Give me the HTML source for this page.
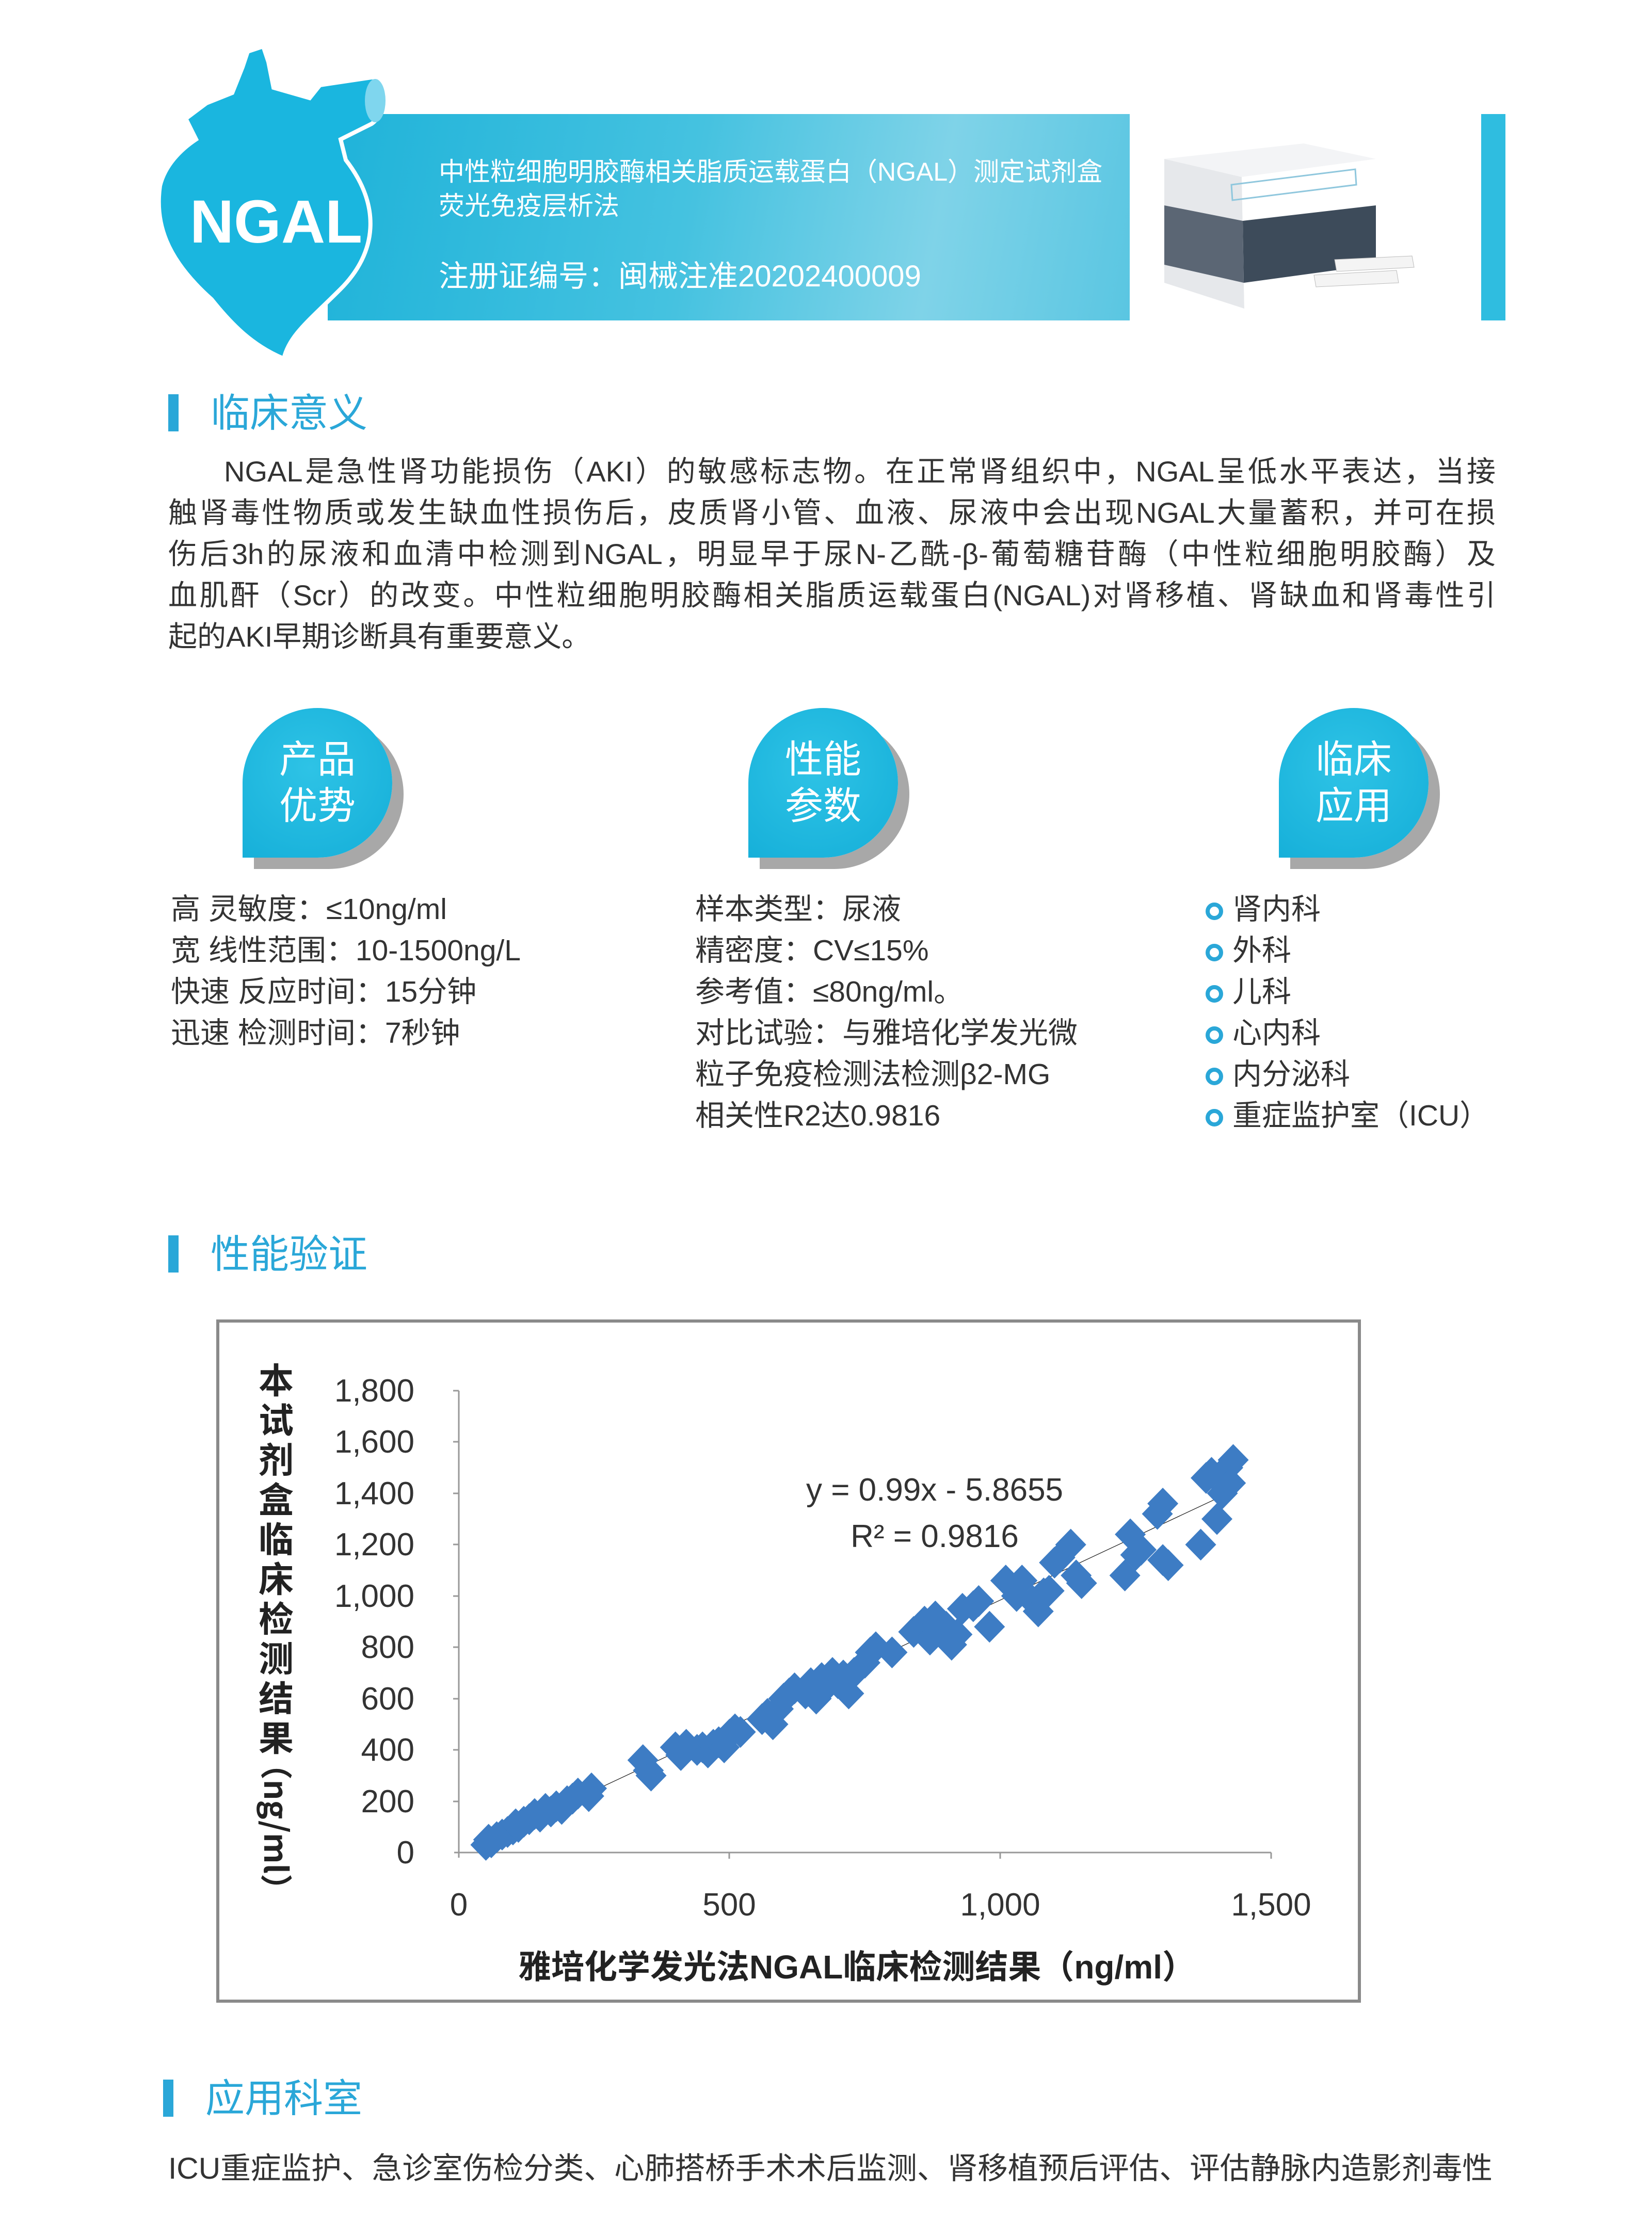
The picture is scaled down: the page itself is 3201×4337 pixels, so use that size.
<!DOCTYPE html>
<html><head><meta charset="utf-8"><style>
*{margin:0;padding:0;box-sizing:border-box}
body{width:3201px;height:4337px;background:#fff;position:relative;overflow:hidden;font-family:"Liberation Sans","Noto Sans CJK SC",sans-serif;color:#333}
.abs{position:absolute}
.sec{position:absolute;left:326px;font-size:76px;color:#2aa7d8;line-height:1}
.sec:before{content:"";position:absolute;left:0;top:0;width:20px;height:72px;background:#2aa7d8}
.sec span{margin-left:82px}
.para{position:absolute;left:326px;width:2572px;font-size:56px;line-height:80px}
.para div{text-align:justify;text-align-last:justify;white-space:nowrap}
.badge{position:absolute;width:290px;height:290px;border-radius:50% 50% 50% 0;background:radial-gradient(circle at 45% 40%,#2ec3e6,#14aed8);box-shadow:22px 22px 0 #a8a8a8;color:#fff;font-size:74px;line-height:90px;text-align:center;padding-top:55px}
.list{position:absolute;font-size:57px;line-height:80px;white-space:nowrap;color:#333}
.dot{display:inline-block;width:34px;height:34px;border:8px solid #2aa7d8;border-radius:50%;margin-right:18px;vertical-align:-2px}
</style></head><body>

<div class="abs" style="left:635px;top:221px;width:1554px;height:400px;background:linear-gradient(100deg,#1fb3d9 0%,#45c2e0 45%,#7fd3e8 75%,#5ac6e2 100%)"></div>
<div class="abs" style="left:2870px;top:221px;width:47px;height:400px;background:#2fbde0"></div>
<svg class="abs" style="left:280px;top:70px" width="520" height="640" viewBox="0 0 520 640">
<path d="M190 60 L200 30 L230 20 L240 50 L250 100 L320 120 L340 95 L440 80 C470 80 470 150 440 170 L380 200 L390 240 C460 330 450 420 380 490 C320 550 280 580 270 625 C210 600 170 560 130 510 C40 430 20 360 30 290 C40 250 70 220 100 200 L80 160 L120 130 L170 110 Z" fill="#1ab6df" stroke="#fff" stroke-width="8"/>
<ellipse cx="447" cy="125" rx="20" ry="42" fill="#7fd6ee"/>
<text x="255" y="400" text-anchor="middle" font-family="Liberation Sans" font-weight="bold" font-size="118" fill="#fff">NGAL</text>
</svg>
<div class="abs" style="left:850px;top:300px;color:#fff;font-size:50px;line-height:66px;white-space:nowrap">中性粒细胞明胶酶相关脂质运载蛋白（NGAL）测定试剂盒<br>荧光免疫层析法</div>
<div class="abs" style="left:850px;top:488px;color:#fff;font-size:58px;white-space:nowrap">注册证编号：闽械注准20202400009</div>
<svg class="abs" style="left:2236px;top:248px" width="540" height="370" viewBox="0 0 540 370">
<polygon points="20,60 290,30 430,60 170,95" fill="#f3f4f6"/>
<polygon points="20,60 170,95 175,350 20,300" fill="#e6e8eb"/>
<polygon points="170,95 430,60 430,330 175,350" fill="#fff"/>
<polygon points="172,180 430,150 430,265 174,300" fill="#3d4b5a"/>
<polygon points="20,150 172,180 174,300 20,265" fill="#5b6674"/>
<polygon points="150,110 390,80 392,110 152,140" fill="none" stroke="#8fc7dd" stroke-width="3"/>
<polygon points="350,255 500,248 504,270 354,278" fill="#f4f4f4" stroke="#bbb"/>
<polygon points="310,285 470,276 474,300 314,308" fill="#f4f4f4" stroke="#bbb"/>
</svg>

<div class="sec" style="top:764px"><span>临床意义</span></div>
<div class="para" style="top:874px">
<div style="padding-left:108px">NGAL是急性肾功能损伤（AKI）的敏感标志物。在正常肾组织中，NGAL呈低水平表达，当接</div>
<div>触肾毒性物质或发生缺血性损伤后，皮质肾小管、血液、尿液中会出现NGAL大量蓄积，并可在损</div>
<div>伤后3h的尿液和血清中检测到NGAL，明显早于尿N-乙酰-β-葡萄糖苷酶（中性粒细胞明胶酶）及</div>
<div>血肌酐（Scr）的改变。中性粒细胞明胶酶相关脂质运载蛋白(NGAL)对肾移植、肾缺血和肾毒性引</div>
<div style="text-align-last:left">起的AKI早期诊断具有重要意义。</div>
</div>

<div class="badge" style="left:470px;top:1372px">产品<br>优势</div>
<div class="badge" style="left:1450px;top:1372px">性能<br>参数</div>
<div class="badge" style="left:2478px;top:1372px">临床<br>应用</div>

<div class="list" style="left:331px;top:1722px">高 灵敏度：≤10ng/ml<br>宽 线性范围：10-1500ng/L<br>快速 反应时间：15分钟<br>迅速 检测时间：7秒钟</div>
<div class="list" style="left:1347px;top:1722px">样本类型：尿液<br>精密度：CV≤15%<br>参考值：≤80ng/ml。<br>对比试验：与雅培化学发光微<br>粒子免疫检测法检测β2-MG<br>相关性R2达0.9816</div>
<div class="list" style="left:2336px;top:1722px"><span class="dot"></span>肾内科<br><span class="dot"></span>外科<br><span class="dot"></span>儿科<br><span class="dot"></span>心内科<br><span class="dot"></span>内分泌科<br><span class="dot"></span>重症监护室（ICU）</div>

<div class="sec" style="top:2394px"><span>性能验证</span></div>

<svg class="abs" style="left:0;top:0" width="3201" height="4337">
<rect x="422" y="2560" width="2212" height="1318" fill="#fff" stroke="#8a8a8a" stroke-width="6"/>
<g stroke="#999" stroke-width="3">
<line x1="889" y1="2695" x2="889" y2="3600"/>
<line x1="880" y1="3590" x2="2463" y2="3590"/>
<line x1="878" y1="2695" x2="889" y2="2695"/><line x1="878" y1="2794" x2="889" y2="2794"/><line x1="878" y1="2894" x2="889" y2="2894"/><line x1="878" y1="2993" x2="889" y2="2993"/><line x1="878" y1="3093" x2="889" y2="3093"/><line x1="878" y1="3192" x2="889" y2="3192"/><line x1="878" y1="3292" x2="889" y2="3292"/><line x1="878" y1="3391" x2="889" y2="3391"/><line x1="878" y1="3491" x2="889" y2="3491"/>
<line x1="1413" y1="3590" x2="1413" y2="3602"/><line x1="1938" y1="3590" x2="1938" y2="3602"/><line x1="2463" y1="3590" x2="2463" y2="3602"/>
</g>
<g font-family="Liberation Sans" font-size="62" fill="#333" text-anchor="end">
<text x="803" y="2716">1,800</text><text x="803" y="2815">1,600</text><text x="803" y="2915">1,400</text><text x="803" y="3014">1,200</text><text x="803" y="3114">1,000</text><text x="803" y="3213">800</text><text x="803" y="3313">600</text><text x="803" y="3412">400</text><text x="803" y="3512">200</text><text x="803" y="3611">0</text>
</g>
<g font-family="Liberation Sans" font-size="62" fill="#333" text-anchor="middle">
<text x="889" y="3712">0</text><text x="1413" y="3712">500</text><text x="1938" y="3712">1,000</text><text x="2463" y="3712">1,500</text>
<text x="1811" y="2908">y = 0.99x - 5.8655</text>
<text x="1811" y="2998">R² = 0.9816</text>
</g>
<text x="1660" y="3834" text-anchor="middle" font-family="Liberation Sans,Noto Sans CJK SC,sans-serif" font-weight="bold" font-size="64" fill="#222">雅培化学发光法NGAL临床检测结果（ng/ml）</text>
<g font-family="Noto Sans CJK SC,sans-serif" font-weight="bold" font-size="68" fill="#222" text-anchor="middle">
<text x="535" y="2700">本</text><text x="535" y="2777">试</text><text x="535" y="2854">剂</text><text x="535" y="2931">盒</text><text x="535" y="3008">临</text><text x="535" y="3085">床</text><text x="535" y="3162">检</text><text x="535" y="3239">测</text><text x="535" y="3316">结</text><text x="535" y="3393">果</text>
<text transform="translate(512,3540) rotate(90)" font-size="62">（ng/ml）</text>
</g>
<defs><polygon id="d" points="0,62 28.6,0 0,-62 -28.6,0" fill="#3d7cc4"/></defs>
<g transform="translate(889,3590) scale(1.0493,-0.4972)">
<line x1="50" y1="43.6" x2="1430" y2="1409.8" stroke="#222" stroke-width="2"/>
<use href="#d" x="50" y="30"/><use href="#d" x="55" y="50"/><use href="#d" x="60" y="40"/><use href="#d" x="70" y="60"/><use href="#d" x="80" y="70"/><use href="#d" x="90" y="80"/><use href="#d" x="100" y="90"/><use href="#d" x="105" y="110"/><use href="#d" x="110" y="100"/><use href="#d" x="120" y="120"/><use href="#d" x="130" y="130"/><use href="#d" x="140" y="150"/><use href="#d" x="150" y="140"/><use href="#d" x="160" y="170"/><use href="#d" x="170" y="160"/><use href="#d" x="180" y="180"/><use href="#d" x="190" y="170"/><use href="#d" x="200" y="200"/><use href="#d" x="210" y="210"/><use href="#d" x="220" y="230"/><use href="#d" x="240" y="220"/><use href="#d" x="245" y="250"/>
<use href="#d" x="340" y="360"/><use href="#d" x="350" y="320"/><use href="#d" x="355" y="300"/>
<use href="#d" x="400" y="410"/><use href="#d" x="410" y="380"/><use href="#d" x="420" y="420"/><use href="#d" x="440" y="400"/><use href="#d" x="450" y="410"/><use href="#d" x="460" y="390"/><use href="#d" x="470" y="420"/><use href="#d" x="480" y="430"/><use href="#d" x="490" y="410"/><use href="#d" x="500" y="460"/><use href="#d" x="510" y="480"/><use href="#d" x="520" y="470"/>
<use href="#d" x="560" y="520"/><use href="#d" x="570" y="540"/><use href="#d" x="580" y="500"/><use href="#d" x="590" y="560"/><use href="#d" x="600" y="600"/><use href="#d" x="610" y="620"/><use href="#d" x="620" y="640"/><use href="#d" x="640" y="620"/><use href="#d" x="650" y="660"/><use href="#d" x="660" y="600"/><use href="#d" x="670" y="680"/><use href="#d" x="680" y="650"/><use href="#d" x="690" y="700"/><use href="#d" x="700" y="660"/><use href="#d" x="710" y="690"/><use href="#d" x="720" y="620"/><use href="#d" x="730" y="700"/>
<use href="#d" x="750" y="740"/><use href="#d" x="760" y="780"/><use href="#d" x="770" y="800"/><use href="#d" x="800" y="780"/>
<use href="#d" x="840" y="860"/><use href="#d" x="860" y="900"/><use href="#d" x="870" y="830"/><use href="#d" x="880" y="920"/><use href="#d" x="900" y="880"/><use href="#d" x="910" y="810"/><use href="#d" x="920" y="850"/><use href="#d" x="930" y="950"/><use href="#d" x="950" y="960"/><use href="#d" x="960" y="980"/><use href="#d" x="980" y="880"/>
<use href="#d" x="1010" y="1060"/><use href="#d" x="1030" y="1000"/><use href="#d" x="1040" y="1060"/><use href="#d" x="1060" y="980"/><use href="#d" x="1070" y="940"/><use href="#d" x="1080" y="1010"/><use href="#d" x="1090" y="1020"/><use href="#d" x="1100" y="1130"/><use href="#d" x="1110" y="1150"/><use href="#d" x="1130" y="1200"/><use href="#d" x="1140" y="1080"/><use href="#d" x="1150" y="1050"/>
<use href="#d" x="1230" y="1080"/><use href="#d" x="1240" y="1240"/><use href="#d" x="1250" y="1160"/><use href="#d" x="1260" y="1180"/><use href="#d" x="1290" y="1320"/><use href="#d" x="1300" y="1360"/><use href="#d" x="1300" y="1140"/><use href="#d" x="1310" y="1120"/><use href="#d" x="1370" y="1200"/><use href="#d" x="1380" y="1460"/><use href="#d" x="1390" y="1480"/><use href="#d" x="1400" y="1300"/><use href="#d" x="1410" y="1400"/><use href="#d" x="1420" y="1500"/><use href="#d" x="1430" y="1530"/><use href="#d" x="1425" y="1440"/>
</g>
</svg>

<div class="sec" style="top:4030px;left:316px"><span>应用科室</span></div>
<div class="abs" style="left:326px;top:4154px;font-size:58.7px;white-space:nowrap">ICU重症监护、急诊室伤检分类、心肺搭桥手术术后监测、肾移植预后评估、评估静脉内造影剂毒性</div>
</body></html>
